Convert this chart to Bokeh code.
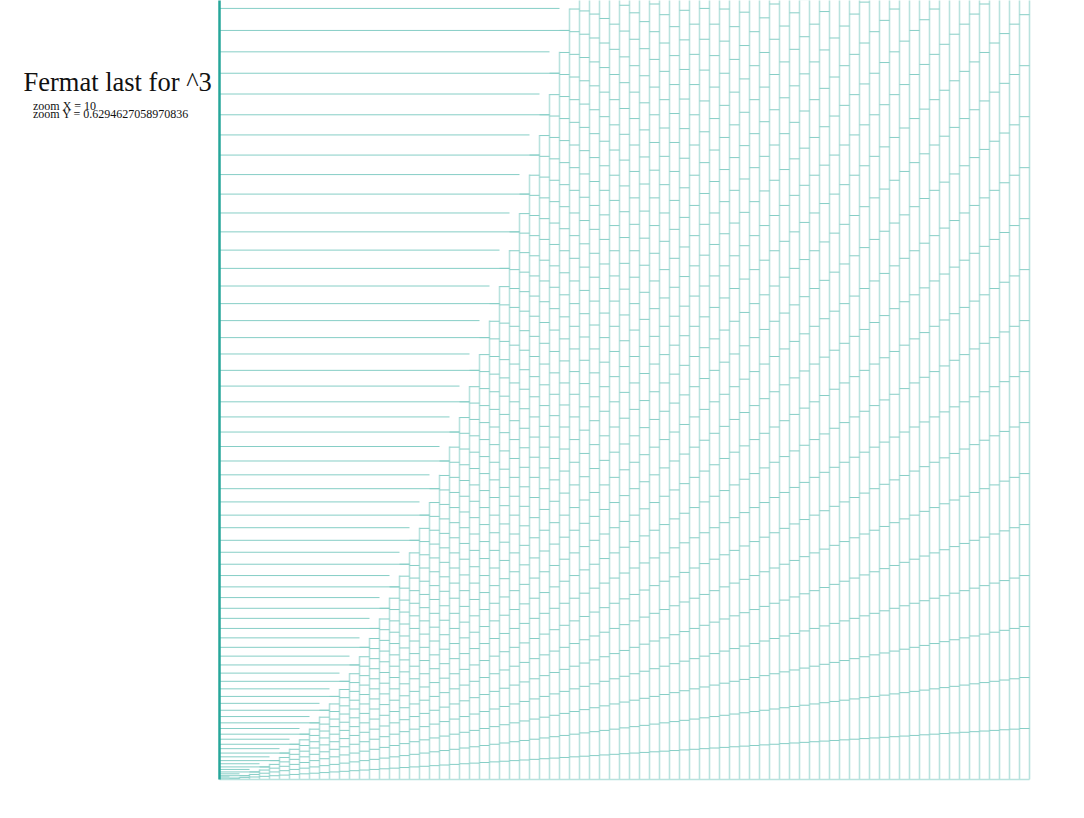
from bokeh.plotting import figure
from bokeh.models import Range1d, ColumnDataSource
from bokeh.core.properties import value
from bokeh.embed import file_html
from bokeh.resources import INLINE

# ---- chart parameters / values ----
title_text = "Fermat last for ^3"
zoom_x = 10
zoom_y = 0.6294627058970836
columns = list(range(1, 82))          # column indices n = 1 .. 81

# page geometry (pixels): origin of the drawing at (219, 779)
W, H = 1084, 818
ox, oy = 219, 779
y_top = oy / zoom_y

def dx(px):   # canvas x pixel -> data x
    return (px - ox) / zoom_x

def dy(py):   # canvas y pixel -> data y
    return (oy - py) / zoom_y

# ---- build the line segments (bricks of n*k, column walls n^2, left rungs) ----
lim = y_top + 5
vx, vy1 = [], []                      # vertical walls
for n in columns:
    vx.append(n); vy1.append(min(n * n, lim))

bx0, bx1, by = [], [], []             # bricks inside column [n-1, n] at k*n
for n in columns:
    for k in range(1, n):
        h = k * n
        if h > lim:
            break
        bx0.append(n - 1); bx1.append(n); by.append(h)

lx1, ly = [], []                      # left rungs from the axis
for n in columns[1:]:
    if n * n <= lim:
        lx1.append(n - 1); ly.append(n * n)
    if n * (n - 1) <= lim:
        lx1.append(n); ly.append(n * (n - 1))

wall_col = "#b9e2de"
rung_col = "#86cec6"
axis_col = "#26a69a"

p = figure(width=W, height=H, output_backend="svg", toolbar_location=None,
           x_range=Range1d(dx(0), dx(W)), y_range=Range1d(dy(H), dy(0)),
           min_border_left=0, min_border_right=0, min_border_top=0, min_border_bottom=0)
p.axis.visible = False
p.grid.visible = False
p.outline_line_color = None
p.background_fill_color = "white"
p.border_fill_color = "white"

p.segment(x0="x", y0=0, x1="x", y1="y1",
          source=ColumnDataSource(dict(x=vx, y1=vy1)),
          line_color=wall_col, line_width=1.6)
p.segment(x0="x0", y0="y", x1="x1", y1="y",
          source=ColumnDataSource(dict(x0=bx0, x1=bx1, y=by)),
          line_color=rung_col, line_width=1)
p.segment(x0=0, y0="y", x1="x1", y1="y",
          source=ColumnDataSource(dict(x1=lx1, y=ly)),
          line_color=rung_col, line_width=1)
# baseline and left axis
p.segment(x0=[0], y0=[0], x1=[columns[-1]], y1=[0], line_color=wall_col, line_width=1.6)
p.segment(x0=[0], y0=[0], x1=[0], y1=[y_top + 10], line_color=axis_col, line_width=2.5)

# texts
p.text(x=[dx(23)], y=[dy(81.5)], text=[title_text], text_font=value("Liberation Serif"),
       text_font_size="26.5px", text_color="#111111", text_baseline="alphabetic",
       text_align="left")
p.text(x=[dx(32.5), dx(32.5)], y=[dy(105), dy(113.5)],
       text=["zoom X = " + str(zoom_x), "zoom Y = " + repr(zoom_y)],
       text_font=value("Liberation Serif"), text_font_size="12px",
       text_color="#111111", text_baseline="alphabetic", text_align="left")

open("out.html", "w").write(file_html(p, INLINE))
